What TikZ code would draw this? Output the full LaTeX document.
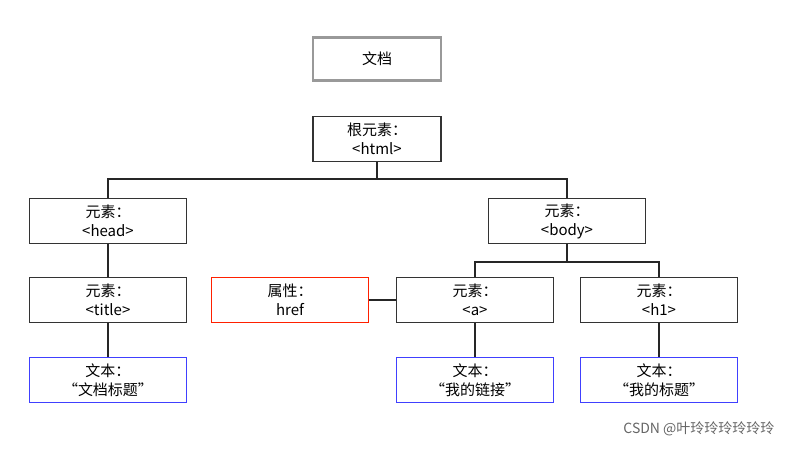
\documentclass[tikz,border=0pt]{standalone}
\usepackage{fontspec}
\setmainfont{Noto Sans CJK SC}
\begin{document}
\begin{tikzpicture}[x=1pt,y=-1pt,
  box/.style={draw=black!80,line width=1.6pt,minimum width=157pt,minimum height=45pt,inner sep=0pt,align=center,font=\fontsize{15}{19}\selectfont,fill=white},
  red/.style={box,draw=red!75!orange},
  blue/.style={box,draw=blue!75},
  gray/.style={box,draw=black!40,line width=2.2pt,minimum width=128pt,minimum height=43pt},
  ln/.style={draw=black!85,line width=1.5pt}]
\fill[white] (0,0) rectangle (788,448);
\node[gray] (doc) at (377,59) {文档};
\node[box,minimum width=128pt] (root) at (377,139) {根元素：\\<html>};
\node[box] (head) at (108,221) {元素：\\<head>};
\node[box] (body) at (567,221) {元素：\\<body>};
\node[box] (title) at (108,300) {元素：\\<title>};
\node[red] (href) at (290,300) {属性：\\href};
\node[box] (a) at (475,300) {元素：\\<a>};
\node[box] (h1) at (659,300) {元素：\\<h1>};
\node[blue] (t1) at (108,380) {文本：\\“文档标题”};
\node[blue] (t2) at (475,380) {文本：\\“我的链接”};
\node[blue] (t3) at (659,380) {文本：\\“我的标题”};
\coordinate (j1) at (377,179);
\coordinate (j2) at (567,262);
\draw[ln] (root.south) -- (j1);
\draw[ln] (head.north) |- (j1) -| (body.north);
\draw[ln] (body.south) -- (j2);
\draw[ln] (a.north) |- (j2) -| (h1.north);
\draw[ln] (head) -- (title);
\draw[ln] (title) -- (t1);
\draw[ln] (a) -- (t2);
\draw[ln] (h1) -- (t3);
\draw[ln] (href) -- (a);
\node[font=\fontsize{14}{16}\selectfont,text=black!60,anchor=east] (wm) at (778,429) {CSDN @叶玲玲玲玲玲玲};
\end{tikzpicture}
\end{document}
